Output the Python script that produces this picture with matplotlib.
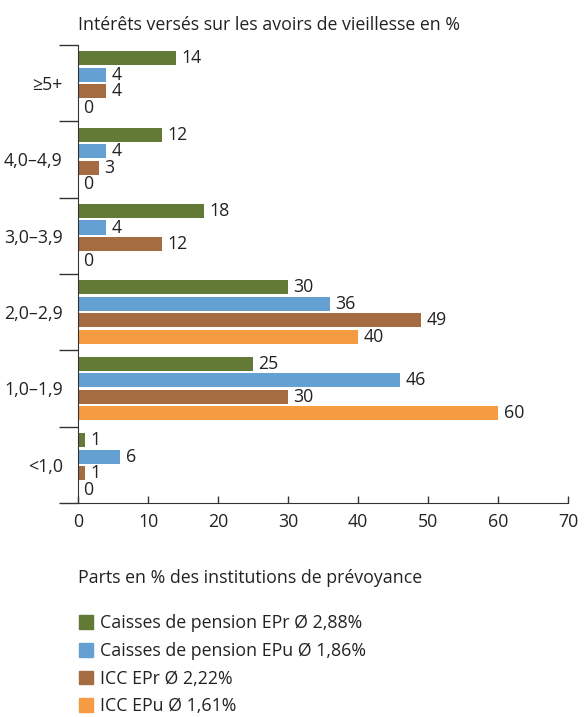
import matplotlib.pyplot as plt
import matplotlib.patches as mpatches
import numpy as np

plt.rcParams['font.family'] = ['Open Sans', 'DejaVu Sans']

categories = ['≥5+', '4,0–4,9', '3,0–3,9', '2,0–2,9', '1,0–1,9', '<1,0']
series = ['Caisses de pension EPr Ø 2,88%', 'Caisses de pension EPu Ø 1,86%',
          'ICC EPr Ø 2,22%', 'ICC EPu Ø 1,61%']
cp_epr = [14, 12, 18, 30, 25, 1]
cp_epu = [4, 4, 4, 36, 46, 6]
icc_epr = [4, 3, 12, 49, 30, 1]
icc_epu = [0, 0, 0, 40, 60, 0]
values = [cp_epr, cp_epu, icc_epr, icc_epu]
colors = ['#627a35', '#64a0d2', '#a56b41', '#f59b42']

txt = '#222222'
fs = 12.8
fig = plt.figure(figsize=(5.84, 7.17), dpi=100)
ax = fig.add_axes([0.1336, 0.2985, 0.839, 0.6388])

y = np.arange(len(categories))
step = 0.216
for k, (vals, col) in enumerate(zip(values, colors)):
    pos = y + (k - 1.5) * step
    bars = ax.barh(pos, vals, height=0.185, color=col)
    for bar, v in zip(bars, vals):
        ax.text(bar.get_width() + 0.8, bar.get_y() + bar.get_height() / 2, str(v),
                va='center', ha='left', fontsize=fs, color=txt)

ax.set_ylim(len(categories) - 0.5, -0.5)
ax.set_xlim(0, 70)
ax.set_yticks(y)
ax.set_yticklabels(categories)
ax.set_yticks(np.arange(len(categories) + 1) - 0.5, minor=True)
ax.tick_params(axis='y', which='major', length=0, pad=11, labelsize=fs, labelcolor=txt)
ax.tick_params(axis='y', which='minor', length=14, width=1, color='#333333')
ax.set_xticks(range(0, 71, 10))
ax.tick_params(axis='x', direction='in', length=5, width=1, color='#333333',
               labelsize=fs, labelcolor=txt, pad=7)
for s in ['top', 'right']:
    ax.spines[s].set_visible(False)
ax.spines['left'].set_color('#333333')
ax.spines['bottom'].set_color('#333333')

fig.text(78 / 584, 1 - 25 / 717, 'Intérêts versés sur les avoirs de vieillesse en %',
         fontsize=fs, color=txt, va='center', ha='left')
fig.text(78 / 584, 1 - 578 / 717, 'Parts en % des institutions de prévoyance',
         fontsize=fs, color=txt, va='center', ha='left')

handles = [mpatches.Patch(color=c, label=s) for c, s in zip(colors, series)]
fig.legend(handles=handles, loc='upper left', bbox_to_anchor=(72 / 584, 1 - 607 / 717),
           frameon=False, fontsize=fs, handlelength=0.8, handleheight=0.8,
           handletextpad=0.35, labelspacing=0.55, labelcolor=txt, borderaxespad=0)

fig.savefig('out.png', dpi=100)
